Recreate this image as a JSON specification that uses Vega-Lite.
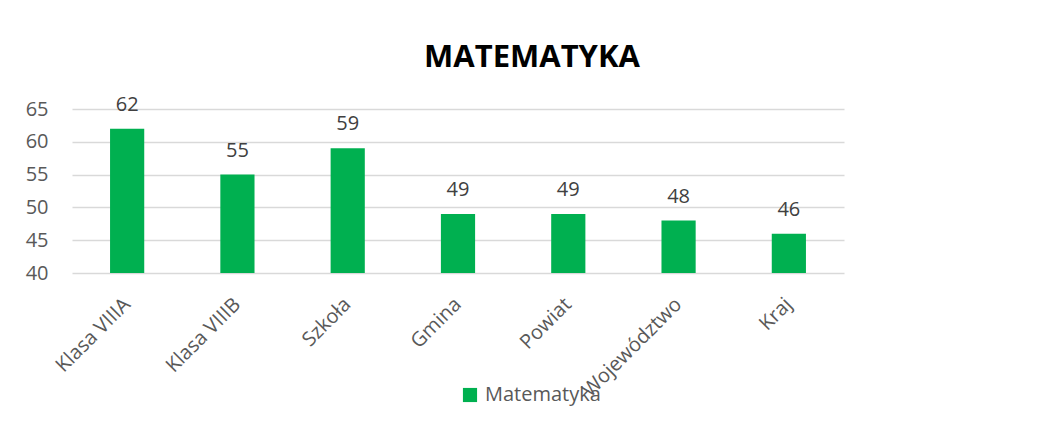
{
  "$schema": "https://vega.github.io/schema/vega-lite/v6.json",
  "width": 772,
  "height": 164,
  "autosize": {"type": "none"},
  "padding": {"left": 72, "top": 109, "right": 197, "bottom": 148},
  "background": "white",
  "title": {
    "text": "MATEMATYKA",
    "font": "Open Sans",
    "fontSize": 31,
    "fontWeight": "bold",
    "color": "#000000",
    "anchor": "middle",
    "frame": "group",
    "dx": 74,
    "baseline": "alphabetic",
    "offset": -3
  },
  "config": {
    "view": {"stroke": null},
    "font": "Open Sans"
  },
  "data": {
    "values": [
      {"kategoria": "Klasa VIIIA", "wynik": 62, "seria": "Matematyka"},
      {"kategoria": "Klasa VIIIB", "wynik": 55, "seria": "Matematyka"},
      {"kategoria": "Szkoła", "wynik": 59, "seria": "Matematyka"},
      {"kategoria": "Gmina", "wynik": 49, "seria": "Matematyka"},
      {"kategoria": "Powiat", "wynik": 49, "seria": "Matematyka"},
      {"kategoria": "Województwo", "wynik": 48, "seria": "Matematyka"},
      {"kategoria": "Kraj", "wynik": 46, "seria": "Matematyka"}
    ]
  },
  "encoding": {
    "x": {
      "field": "kategoria",
      "type": "nominal",
      "sort": null,
      "scale": {"paddingInner": 0.69, "paddingOuter": 0.345},
      "axis": {
        "title": null,
        "labelAngle": -45,
        "labelAlign": "right",
        "labelBaseline": "middle",
        "labelFont": "Open Sans",
        "labelFontSize": 20,
        "labelColor": "#595959",
        "labelPadding": 28,
        "ticks": false,
        "domain": false,
        "grid": false
      }
    },
    "y": {
      "field": "wynik",
      "type": "quantitative",
      "scale": {"domain": [40, 65], "nice": false, "zero": false},
      "axis": {
        "title": null,
        "values": [40, 45, 50, 55, 60, 65],
        "labelFont": "Open Sans",
        "labelFontSize": 20,
        "labelColor": "#595959",
        "labelPadding": 24,
        "ticks": false,
        "domain": false,
        "grid": true,
        "gridColor": "#D9D9D9",
        "gridWidth": 1.5
      }
    }
  },
  "layer": [
    {
      "mark": {"type": "bar", "clip": true},
      "encoding": {
        "color": {
          "field": "seria",
          "type": "nominal",
          "scale": {"range": ["#00B050"]},
          "legend": {
            "title": null,
            "orient": "none",
            "legendX": 388,
            "legendY": 276,
            "symbolType": "square",
            "symbolSize": 200,
            "symbolStrokeWidth": 0,
            "labelFont": "Open Sans",
            "labelFontSize": 20,
            "labelColor": "#595959",
            "labelOffset": 5
          }
        }
      }
    },
    {
      "mark": {
        "type": "text",
        "baseline": "alphabetic",
        "dy": -18,
        "font": "Open Sans",
        "fontSize": 20,
        "color": "#404040"
      },
      "encoding": {
        "text": {"field": "wynik", "type": "quantitative"}
      }
    }
  ]
}
